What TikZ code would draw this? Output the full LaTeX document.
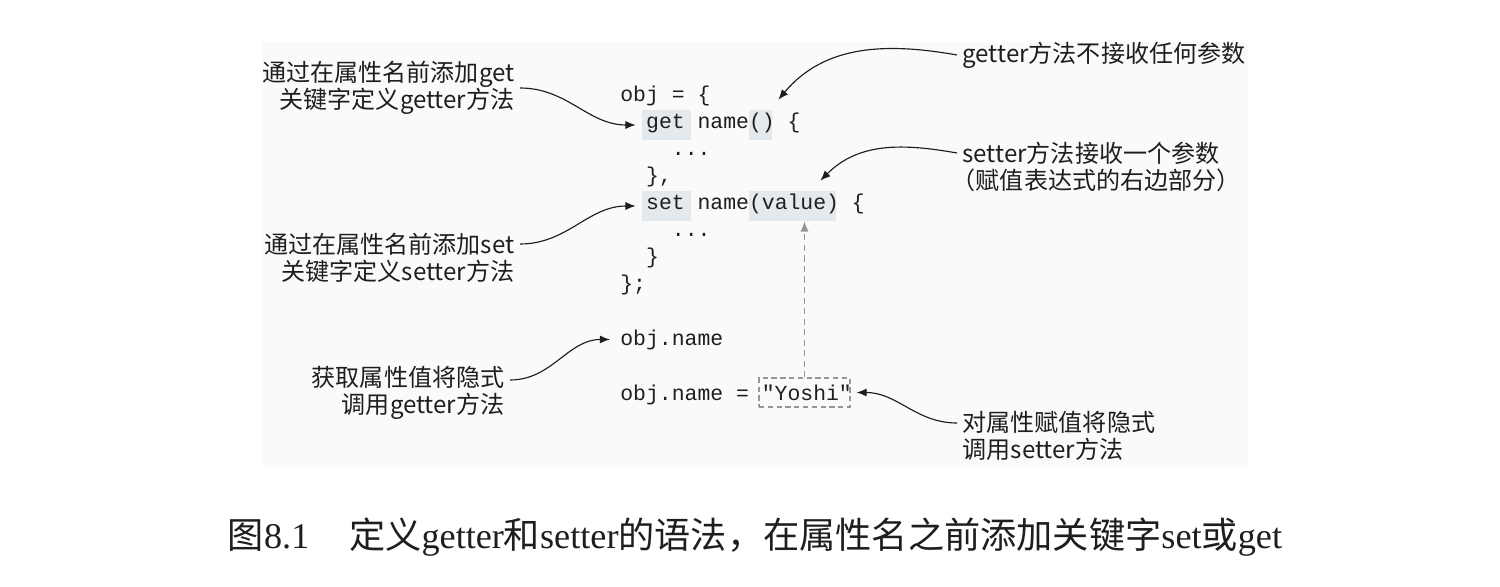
\documentclass[tikz,border=0pt]{standalone}
\usepackage{fontspec}
\setmainfont{Liberation Serif}
\setmonofont{Liberation Mono}
\newfontfamily\cjk{Noto Sans CJK SC}
\usetikzlibrary{arrows.meta,fit,calc}
\definecolor{panel}{RGB}{250,250,250}
\definecolor{hlc}{RGB}{228,233,238}
\definecolor{dgray}{RGB}{150,150,150}
\definecolor{ink}{RGB}{30,30,30}
\newcommand{\zh}[1]{{\cjk #1}}
\begin{document}
\begin{tikzpicture}[x=0.02cm,y=0.02cm,
  code/.style={font=\ttfamily\fontsize{12.2}{14}\selectfont, text=ink, inner sep=0pt, anchor=base west},
  hlbox/.style={fill=hlc, inner sep=0pt},
  lbl/.style={font=\cjk\fontsize{13.7}{15.3}\selectfont, text=ink, inner sep=3pt},
  arr/.style={-{Latex[length=5.8pt,width=4.6pt]}, line width=0.65pt, draw=ink},
  garr/.style={-{Latex[length=5.8pt,width=4.6pt]}, line width=0.65pt, draw=dgray, dashed, dash pattern=on 3.5pt off 2.5pt},
]
\useasboundingbox (0,0) rectangle (1500,586);
\fill[white] (0,0) rectangle (1500,586);
\fill[panel] (262,121) rectangle (1248,544);

% highlight boxes
\node[hlbox, fit={(642,476) (691,446)}] (getkw) {};
\node[hlbox, fit={(749,476) (772,446)}] (getpar) {};
\node[hlbox, fit={(642,395) (691,365)}] (setkw) {};
\node[hlbox, fit={(749,395) (836,365)}] (setpar) {};

% code
\node[code] (c1) at (620,484) {obj = \{};
\node[code] (c2) at (645.8,458) {get name() \{};
\node[code] (c3) at (671.6,431) {...};
\node[code] (c4) at (645.8,404) {\},};
\node[code] (c5) at (645.8,377) {set name(value) \{};
\node[code] (c6) at (671.6,350) {...};
\node[code] (c7) at (645.8,323) {\}};
\node[code] (c8) at (620,296) {\};};
\node[code] (c9) at (620,241) {obj.name};
\node[code] (c10) at (620,186) {obj.name = "Yoshi"};
\node[draw=dgray, dashed, dash pattern=on 3pt off 2pt, line width=0.6pt, inner sep=0pt, fit={(759,208) (850,179)}] (yoshi) {};

% labels
\node[lbl, anchor=east, align=right] (L1) at (520,498) {通过在属性名前添加get\\关键字定义getter方法};
\node[lbl, anchor=east, align=right] (L2) at (520,328) {通过在属性名前添加set\\关键字定义setter方法};
\node[lbl, anchor=east, align=right] (L3) at (510,193) {获取属性值将隐式\\调用getter方法};
\node[lbl, anchor=west, align=left] (R1) at (957,531) {getter方法不接收任何参数};
\node[lbl, anchor=west, align=left] (R2) at (957,419) {setter方法接收一个参数\\\kern-0.45em（赋值表达式的右边部分）};
\node[lbl, anchor=west, align=left] (R4) at (957,150) {对属性赋值将隐式\\调用setter方法};

% connectors
\draw[arr] (L1.east) to[out=0,in=180] ($(getkw.west)+(-6,0)$);
\draw[arr] (R1.west) to[out=170,in=50] ($(getpar.north east)+(6,10)$);
\draw[arr] ($(R2.west)+(0,14)$) to[out=170,in=45] ($(setpar.north east)+(-16,10)$);
\draw[arr] ($(L2.east)+(0,14)$) to[out=0,in=180] ($(setkw.west)+(-6,0)$);
\draw[arr] ($(L3.east)+(0,13)$) to[out=0,in=180] ($(c9.west)+(-10,0)$);
\draw[arr] ($(R4.west)+(0,13)$) to[out=180,in=0] ($(yoshi.east)+(6,0)$);
\draw[garr] (yoshi.north) -- (yoshi.north |- setpar.south);

% caption
\node[font=\fontsize{20.6}{24}\selectfont, text=ink, inner sep=0pt] (cap) at (755,49)
  {\zh{图}8.1\hspace{1.1em}\zh{定义}getter\zh{和}setter\zh{的语法，在属性名之前添加关键字}set\zh{或}get};
\end{tikzpicture}
\end{document}
